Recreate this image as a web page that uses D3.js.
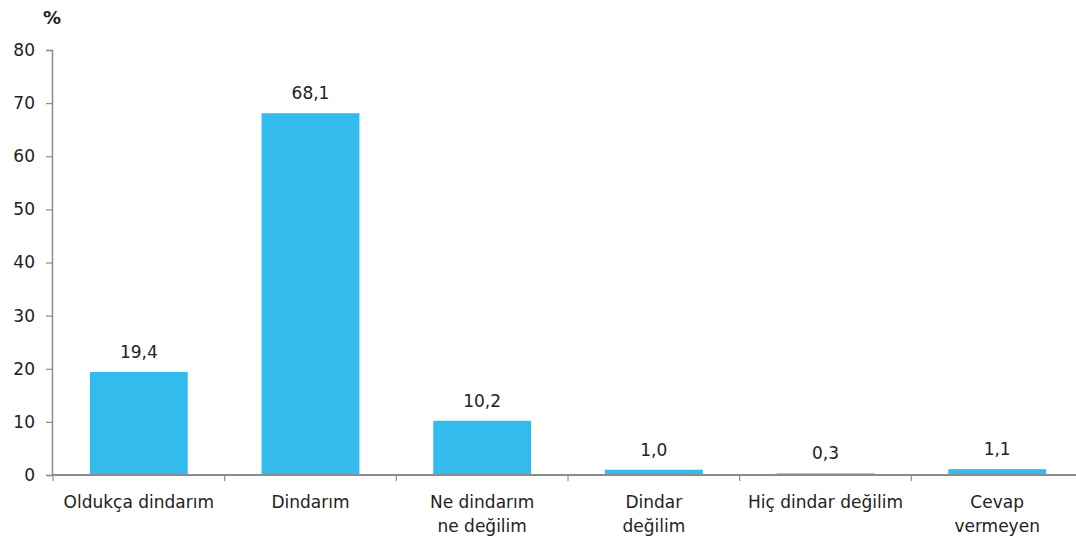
<!DOCTYPE html>
<html>
<head>
<meta charset="utf-8">
<script src="https://cdn.jsdelivr.net/npm/d3@7"></script>
<style>
  html, body { margin: 0; padding: 0; background: #fff; }
  svg { display: block; font-family: "DejaVu Sans", Verdana, sans-serif; }
</style>
</head>
<body>
<svg id="chart" width="1076" height="545"></svg>
<script>
const categories = [
  ["Oldukça dindarım"],
  ["Dindarım"],
  ["Ne dindarım", "ne değilim"],
  ["Dindar", "değilim"],
  ["Hiç dindar değilim"],
  ["Cevap", "vermeyen"]
];
const values = [19.4, 68.1, 10.2, 1.0, 0.3, 1.1];
const yTicks = [0, 10, 20, 30, 40, 50, 60, 70, 80];
const unitLabel = "%";

const svg = d3.select("#chart");
const axisColor = "#8c8c8c";
const textColor = "#222";
const barColor = "#33bbee";
const fs = "17px";

const keys = categories.map(c => c.join(" "));
const x = d3.scaleBand().domain(keys).range([53, 1083]).paddingInner(0.43).paddingOuter(0.215);
const y = d3.scaleLinear().domain([0, 80]).range([475, 50]);

// y axis
const yAxis = d3.axisLeft(y).tickValues(yTicks).tickSize(6).tickPadding(11).tickFormat(d3.format("d"));
const gy = svg.append("g").attr("transform", "translate(52,0)").call(yAxis);
gy.select(".domain").attr("stroke", axisColor).attr("stroke-width", 1.5);
gy.selectAll(".tick line").attr("stroke", axisColor).attr("stroke-width", 1.2);
gy.selectAll(".tick text").attr("fill", textColor).style("font-size", fs).style("font-family", "DejaVu Sans, sans-serif");

// bars
svg.append("g").selectAll("rect").data(values).join("rect")
  .attr("x", (d, i) => x(keys[i]))
  .attr("width", x.bandwidth())
  .attr("y", d => y(d))
  .attr("height", d => y(0) - y(d))
  .attr("fill", barColor);

// x axis
const step = x.step();
svg.append("line")
  .attr("x1", 52).attr("x2", 1076)
  .attr("y1", y(0)).attr("y2", y(0))
  .attr("stroke", axisColor).attr("stroke-width", 1.8);
const boundaries = d3.range(categories.length + 1).map(i => 53 + i * step);
svg.append("g").selectAll("line").data(boundaries).join("line")
  .attr("x1", d => d).attr("x2", d => d)
  .attr("y1", y(0)).attr("y2", y(0) + 6)
  .attr("stroke", axisColor).attr("stroke-width", 1.2);

// category labels
const labels = svg.append("g").selectAll("text").data(categories).join("text")
  .attr("text-anchor", "middle")
  .attr("fill", textColor)
  .style("font-size", fs)
  .attr("x", (d, i) => x(keys[i]) + x.bandwidth() / 2)
  .attr("y", 508);
labels.selectAll("tspan").data(d => d).join("tspan")
  .attr("x", function() { return this.parentNode.getAttribute("x"); })
  .attr("dy", (d, i) => i === 0 ? 0 : 24)
  .text(d => d);

// value labels
const fmt = v => v.toFixed(1).replace(".", ",");
svg.append("g").selectAll("text").data(values).join("text")
  .attr("text-anchor", "middle")
  .attr("fill", textColor)
  .style("font-size", fs)
  .attr("x", (d, i) => x(keys[i]) + x.bandwidth() / 2)
  .attr("y", d => y(d) - 14)
  .text(fmt);

// unit label
svg.append("text")
  .attr("x", 52).attr("y", 24)
  .attr("text-anchor", "middle")
  .attr("fill", textColor)
  .style("font-size", "18px")
  .style("font-weight", "bold")
  .text(unitLabel);
</script>
</body>
</html>
